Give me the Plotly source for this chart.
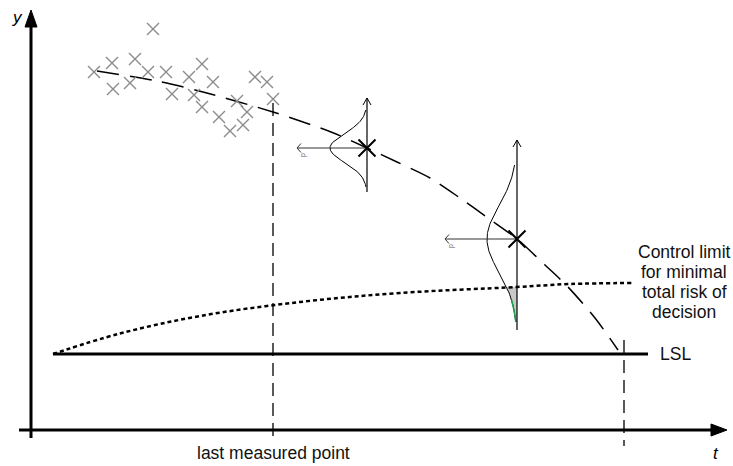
import numpy as np
import plotly.graph_objects as go

# ---------------- data (schematic coordinates: x = t, y measured downward) ----------------
scatter_t = [94, 112, 113, 130, 135, 148, 153, 166, 172, 189, 202, 194, 202, 213, 219, 230, 237, 247, 243, 255, 267, 273]
scatter_y = [72, 63, 89, 83, 59, 72, 29, 72, 94, 77, 64, 95, 107, 82, 117, 131, 101, 112, 125, 77, 82, 99]

trend_t = [97, 157, 203, 273, 331, 367, 397, 430, 460, 488, 517, 545, 568, 595, 618]
trend_y = [71, 81, 92, 112, 132, 148, 162, 178, 198, 218, 239, 265, 287, 318, 350]

limit_t = [53, 118, 200, 300, 400, 517, 570, 632]
limit_y = [354, 334, 316, 302, 293, 287, 284, 283]

lsl_t = [53, 648]
lsl_y = [354, 354]

last_point_t = 273
end_point_t = 624

dist_t = [367, 517]
dist_mean = [148, 239]
dist_sigma = [14.5, 33.0]
dist_amp = [37, 30]
dist_top = [110, 165]
dist_bottom = [187, 322]
dist_axis_top = [98, 140]
dist_axis_bottom = [192, 330]
dist_arrow_left = [297, 445]

risk_from = 287
green_from = 300

# ---------------- figure ----------------
fig = go.Figure()
BLACK = "#000000"
GRAY = "#8a8a8a"

# shaded risk area (distribution 2 below control limit)
k = 1
ys = np.linspace(risk_from, dist_bottom[k], 40)
xs = dist_t[k] - dist_amp[k] * np.exp(-((ys - dist_mean[k]) ** 2) / (2 * dist_sigma[k] ** 2))
fig.add_trace(go.Scatter(x=list(xs) + [dist_t[k], dist_t[k]], y=list(ys) + [dist_bottom[k], risk_from],
                         fill="toself", fillcolor="#c8c8c8", line=dict(width=0), mode="lines",
                         hoverinfo="skip", showlegend=False))

# distribution curves
for i in range(2):
    ys = np.linspace(dist_top[i], dist_bottom[i], 120)
    xs = dist_t[i] - dist_amp[i] * np.exp(-((ys - dist_mean[i]) ** 2) / (2 * dist_sigma[i] ** 2))
    fig.add_trace(go.Scatter(x=xs, y=ys, mode="lines", line=dict(color=BLACK, width=1),
                             hoverinfo="skip", showlegend=False))
ys = np.linspace(green_from, dist_bottom[1], 30)
xs = dist_t[1] - dist_amp[1] * np.exp(-((ys - dist_mean[1]) ** 2) / (2 * dist_sigma[1] ** 2))
fig.add_trace(go.Scatter(x=xs, y=ys, mode="lines", line=dict(color="#1aa64a", width=1.5),
                         hoverinfo="skip", showlegend=False))

# distribution axes (vertical + horizontal arrows)
for i in range(2):
    fig.add_trace(go.Scatter(x=[dist_t[i], dist_t[i]], y=[dist_axis_bottom[i], dist_axis_top[i]],
                             mode="lines", line=dict(color=BLACK, width=1.2), showlegend=False, hoverinfo="skip"))
    fig.add_trace(go.Scatter(x=[dist_t[i] - 4, dist_t[i], dist_t[i] + 4],
                             y=[dist_axis_top[i] + 7, dist_axis_top[i], dist_axis_top[i] + 7],
                             mode="lines", line=dict(color=BLACK, width=1), showlegend=False, hoverinfo="skip"))
    fig.add_trace(go.Scatter(x=[dist_t[i], dist_arrow_left[i]], y=[dist_mean[i], dist_mean[i]],
                             mode="lines", line=dict(color="#333333", width=1), showlegend=False, hoverinfo="skip"))
    fig.add_trace(go.Scatter(x=[dist_arrow_left[i] + 4, dist_arrow_left[i], dist_arrow_left[i] + 4],
                             y=[dist_mean[i] - 4.5, dist_mean[i], dist_mean[i] + 4.5],
                             mode="lines", line=dict(color="#333333", width=1), showlegend=False, hoverinfo="skip"))
    fig.add_annotation(x=dist_arrow_left[i] + 6, y=dist_mean[i] + 7, text="p", showarrow=False,
                       textangle=-90, font=dict(size=7, color="#555555", family="Liberation Sans"))

# LSL line
fig.add_trace(go.Scatter(x=lsl_t, y=lsl_y, mode="lines", line=dict(color=BLACK, width=3),
                         hoverinfo="skip", showlegend=False))

# control limit (dotted)
fig.add_trace(go.Scatter(x=limit_t, y=limit_y, mode="lines",
                         line=dict(color=BLACK, width=2.5, dash="4px,3px", shape="spline", smoothing=1.0),
                         hoverinfo="skip", showlegend=False))

# trend (dashed)
fig.add_trace(go.Scatter(x=trend_t, y=trend_y, mode="lines",
                         line=dict(color=BLACK, width=1.5, dash="22px,11px", shape="spline", smoothing=0.8),
                         hoverinfo="skip", showlegend=False))

# vertical dashed lines
fig.add_trace(go.Scatter(x=[last_point_t, last_point_t], y=[103, 440], mode="lines",
                         line=dict(color=BLACK, width=1.3, dash="13px,7px"), hoverinfo="skip", showlegend=False))
fig.add_trace(go.Scatter(x=[end_point_t, end_point_t], y=[340, 446], mode="lines",
                         line=dict(color=BLACK, width=1.3, dash="13px,7px"), hoverinfo="skip", showlegend=False))

# measured points
fig.add_trace(go.Scatter(x=scatter_t, y=scatter_y, mode="markers",
                         marker=dict(symbol="x-thin", size=12, line=dict(color=GRAY, width=1.4), color=GRAY),
                         hoverinfo="skip", showlegend=False))

# predicted means
fig.add_trace(go.Scatter(x=dist_t, y=dist_mean, mode="markers",
                         marker=dict(symbol="x-thin", size=17, line=dict(color=BLACK, width=2), color=BLACK),
                         hoverinfo="skip", showlegend=False))

# main axes
fig.add_trace(go.Scatter(x=[31, 31], y=[438, 22], mode="lines", line=dict(color=BLACK, width=3),
                         hoverinfo="skip", showlegend=False))
fig.add_trace(go.Scatter(x=[19, 715], y=[430, 430], mode="lines", line=dict(color=BLACK, width=3),
                         hoverinfo="skip", showlegend=False))
fig.add_trace(go.Scatter(x=[31, 25, 37, 31], y=[10, 27, 27, 10], mode="lines", fill="toself",
                         fillcolor=BLACK, line=dict(color=BLACK, width=1), hoverinfo="skip", showlegend=False))
fig.add_trace(go.Scatter(x=[727, 711, 711, 727], y=[430, 424, 436, 430], mode="lines", fill="toself",
                         fillcolor=BLACK, line=dict(color=BLACK, width=1), hoverinfo="skip", showlegend=False))

# texts
FONT = "Liberation Sans, Arial, sans-serif"
fig.add_annotation(x=17, y=17, text="<i>y</i>", showarrow=False, font=dict(size=17, color=BLACK, family=FONT))
fig.add_annotation(x=716, y=453, text="<i>t</i>", showarrow=False, font=dict(size=17, color=BLACK, family=FONT))
fig.add_annotation(x=273, y=453, text="last measured point", showarrow=False,
                   font=dict(size=17.5, color="#111111", family=FONT))
fig.add_annotation(x=658, y=354, text="LSL", showarrow=False, xanchor="left",
                   font=dict(size=17.5, color="#111111", family=FONT))
for txt, yy in zip(["Control limit", "for minimal", "total risk of", "decision"], [252, 272, 292, 312]):
    fig.add_annotation(x=684, y=yy, text=txt, showarrow=False,
                       font=dict(size=17.5, color="#111111", family=FONT))

fig.update_layout(
    width=733, height=466,
    margin=dict(l=0, r=0, t=0, b=0),
    paper_bgcolor="white", plot_bgcolor="white",
    xaxis=dict(range=[0, 733], visible=False, fixedrange=True),
    yaxis=dict(range=[466, 0], visible=False, fixedrange=True),
    showlegend=False,
)

fig.write_html("out.html")
